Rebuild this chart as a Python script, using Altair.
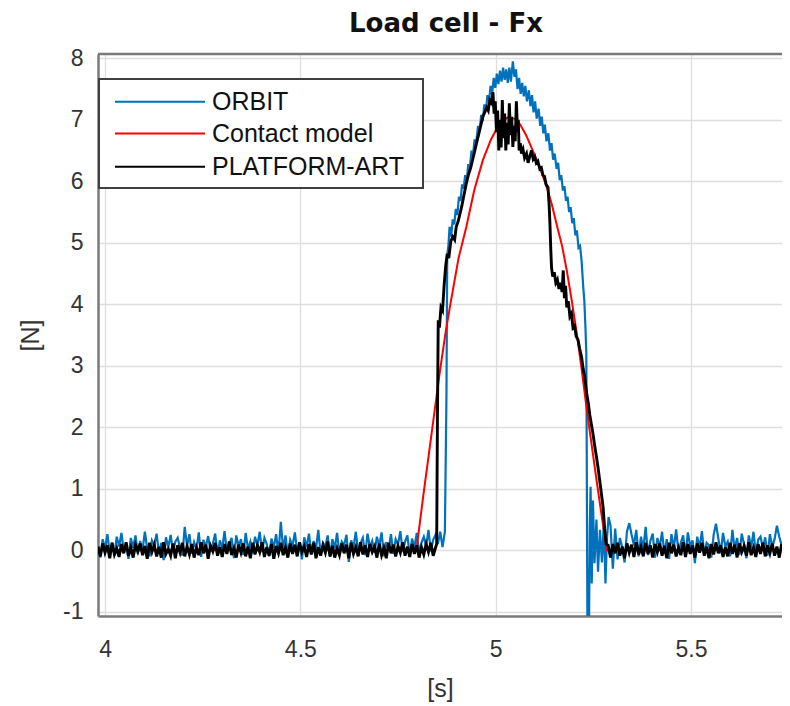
import altair as alt
import pandas as pd

TITLE = "Load cell - Fx"
X_LABEL = "[s]"
Y_LABEL = "[N]"
SERIES = ["ORBIT", "Contact model", "PLATFORM-ART"]
COLORS = ["#0072BD", "#FF0000", "#000000"]
X_TICKS = [4, 4.5, 5, 5.5]
Y_TICKS = [-1, 0, 1, 2, 3, 4, 5, 6, 7, 8]
X_DOMAIN = [3.982, 5.733]
Y_DOMAIN = [-1.07, 8.07]
STEP = 0.006  # sampling step of the flat (pre/post contact) parts

# ---------------- ORBIT (blue) ----------------
ORBIT_PRE_START = 3.982
ORBIT_PRE = [
    0.05, -0.12, 0.18, 0.02, 0.26, -0.04, 0.12, -0.08, 0.22, 0.06,
    0.28, -0.02, 0.10, -0.14, 0.20, 0.04, 0.24, -0.06, 0.15, 0.00,
    0.30, 0.02, -0.10, 0.16, 0.08, 0.27, -0.05, 0.12, -0.16, 0.21,
    0.05, 0.25, -0.03, 0.14, 0.20, 0.04, -0.09, 0.38, 0.07, 0.26,
    -0.06, 0.13, 0.01, 0.29, -0.11, 0.17, 0.05, 0.23, -0.02, 0.11,
    0.27, -0.07, 0.16, 0.03, 0.31, -0.04, 0.09, 0.20, -0.13, 0.24,
    0.06, 0.18, -0.08, 0.28, 0.02, 0.14, -0.05, 0.22, 0.08, 0.30,
    -0.03, 0.20, 0.10, -0.10, 0.19, 0.04, 0.26, -0.06, 0.46, 0.01,
    0.24, -0.09, 0.17, 0.07, 0.29, -0.02, 0.11, -0.15, 0.21, 0.05,
    0.27, -0.04, 0.15, 0.02, 0.33, -0.07, 0.12, 0.06, 0.24, -0.11,
    0.18, 0.03, 0.28, -0.05, 0.14, 0.08, 0.25, -0.19, 0.16, 0.04,
    0.30, -0.02, 0.11, 0.20, -0.08, 0.27, 0.05, 0.15, -0.04, 0.22,
    0.07, 0.29, -0.10, 0.13, 0.02, 0.26, -0.06, 0.18, 0.09, 0.31,
    -0.03, 0.14, 0.24, -0.09, 0.19, 0.04, 0.28, -0.05, 0.12, 0.22,
    0.06, 0.33, -0.02, 0.17, 0.25, 0.10, 0.30, 0.05, 0.30,
]
ORBIT_PULSE = [
    (4.874, 2.50), (4.876, 4.80), (4.879, 4.95), (4.882, 5.26), (4.886, 5.10),
    (4.890, 5.38), (4.894, 5.30), (4.898, 5.55), (4.902, 5.45), (4.906, 5.75),
    (4.910, 5.68), (4.914, 5.95), (4.918, 5.88), (4.922, 6.10), (4.926, 6.02),
    (4.930, 6.28), (4.934, 6.22), (4.938, 6.50), (4.942, 6.42), (4.946, 6.68),
    (4.950, 6.62), (4.955, 6.90), (4.959, 6.82), (4.963, 7.08), (4.967, 6.98),
    (4.971, 7.25), (4.975, 7.15), (4.979, 7.40), (4.983, 7.30), (4.987, 7.55),
    (4.991, 7.42), (4.995, 7.68), (4.999, 7.52), (5.003, 7.75), (5.007, 7.58),
    (5.011, 7.80), (5.015, 7.62), (5.019, 7.85), (5.023, 7.65), (5.027, 7.82),
    (5.031, 7.60), (5.035, 7.85), (5.039, 7.62), (5.044, 7.95), (5.048, 7.70),
    (5.052, 7.82), (5.056, 7.50), (5.060, 7.68), (5.064, 7.42), (5.068, 7.60),
    (5.072, 7.38), (5.076, 7.55), (5.080, 7.30), (5.085, 7.48), (5.089, 7.22),
    (5.093, 7.40), (5.097, 7.12), (5.101, 7.30), (5.105, 7.02), (5.110, 7.18),
    (5.114, 6.90), (5.118, 7.05), (5.122, 6.78), (5.126, 6.92), (5.130, 6.65),
    (5.135, 6.78), (5.139, 6.50), (5.143, 6.62), (5.147, 6.35), (5.151, 6.45),
    (5.156, 6.20), (5.160, 6.30), (5.164, 6.02), (5.168, 6.10), (5.172, 5.85),
    (5.176, 5.92), (5.180, 5.68), (5.184, 5.75), (5.188, 5.50), (5.192, 5.58),
    (5.196, 5.32), (5.200, 5.40), (5.204, 5.12), (5.208, 5.20), (5.212, 4.92),
    (5.216, 4.95), (5.220, 4.70), (5.224, 4.30), (5.227, 4.05), (5.230, 3.60),
    (5.232, 3.20), (5.233, 1.80), (5.234, 0.20), (5.235, -1.40), (5.237, -0.30),
    (5.239, -1.20), (5.241, 0.40), (5.243, 1.03), (5.246, -0.54), (5.249, 0.81),
    (5.253, -0.21), (5.258, 0.50), (5.262, -0.35), (5.267, 0.33), (5.272, -0.20),
    (5.277, 0.45), (5.281, -0.54), (5.285, 0.20), (5.289, 0.54),
]
ORBIT_POST_START = 5.294
ORBIT_POST = [
    0.40, -0.30, 0.35, -0.15, 0.20, 0.05, -0.20, 0.30, 0.44, 0.25,
    0.08, 0.33, -0.10, 0.22, 0.02, 0.38, -0.08, 0.15, 0.27, -0.12,
    0.20, 0.05, 0.30, -0.06, 0.18, -0.14, 0.26, 0.03, 0.34, -0.04,
    0.12, 0.24, -0.09, 0.29, 0.06, 0.16, -0.21, 0.22, 0.04, 0.31,
    -0.07, 0.12, 0.08, -0.12, 0.25, 0.43, 0.19, -0.05, 0.28, 0.06,
    0.14, -0.10, 0.33, 0.01, 0.20, -0.08, 0.27, 0.09, -0.13, 0.24,
    0.04, 0.30, -0.06, 0.17, 0.22, 0.03, 0.21, -0.09, 0.26, 0.05,
    0.18, 0.40, 0.22, 0.08,
]

# ---------------- Contact model (red) ----------------
CONTACT = [
    (3.982, 0.0), (4.797, 0.0), (4.815, 0.90), (4.835, 1.85), (4.856, 2.85),
    (4.872, 3.55), (4.886, 4.07), (4.905, 4.75), (4.925, 5.26), (4.945, 5.85),
    (4.967, 6.34), (4.988, 6.68), (5.010, 6.94), (5.031, 7.04), (5.047, 7.02),
    (5.062, 6.93), (5.078, 6.75), (5.095, 6.50), (5.113, 6.22), (5.130, 5.92),
    (5.144, 5.62), (5.156, 5.30), (5.170, 4.95), (5.182, 4.55), (5.195, 4.05),
    (5.207, 3.55), (5.220, 2.95), (5.233, 2.30), (5.246, 1.70), (5.258, 1.15),
    (5.270, 0.62), (5.280, 0.20), (5.285, 0.0), (5.733, 0.0),
]

# ---------------- PLATFORM-ART (black) ----------------
PLATFORM_PRE_START = 3.982
PLATFORM_PRE = [
    0.06, -0.10, 0.11, -0.04, 0.08, -0.13, 0.12, -0.07, 0.03, -0.11,
    0.10, -0.05, 0.13, -0.09, 0.04, -0.12, 0.09, -0.02, 0.11, -0.08,
    0.07, -0.14, 0.12, -0.03, 0.09, -0.10, 0.05, -0.12, 0.13, -0.06,
    0.02, -0.09, 0.11, -0.13, 0.08, -0.04, 0.12, -0.10, 0.06, -0.07,
    0.10, -0.12, 0.04, -0.08, 0.13, -0.05, 0.09, -0.14, 0.07, -0.02,
    0.12, -0.09, 0.05, -0.11, 0.10, -0.06, 0.14, -0.08, 0.03, -0.12,
    0.09, -0.04, 0.11, -0.10, 0.06, -0.13, 0.12, -0.07, 0.08, -0.03,
    0.13, -0.11, 0.05, -0.09, 0.10, -0.14, 0.07, -0.05, 0.12, -0.08,
    0.04, -0.12, 0.11, -0.06, 0.09, -0.10, 0.13, -0.03, 0.06, -0.11,
    0.10, -0.07, 0.12, -0.13, 0.05, -0.09, 0.08, -0.04, 0.14, -0.10,
    0.07, -0.12, 0.03, -0.08, 0.11, -0.05, 0.09, -0.13, 0.12, -0.06,
    0.05, -0.10, 0.13, -0.07, 0.08, -0.11, 0.10, -0.03, 0.06, -0.12,
    0.11, -0.08, 0.04, -0.13, 0.12, -0.05, 0.09, -0.10, 0.07, -0.04,
    0.13, -0.09, 0.06, -0.11, 0.10, -0.06, 0.08, -0.12, 0.05, -0.07,
    0.10, -0.03, 0.12, -0.09, 0.04,
]
PLATFORM_PULSE = [
    (4.849, 0.10), (4.851, 2.20), (4.853, 3.74), (4.856, 3.62), (4.860, 3.95),
    (4.864, 3.90), (4.868, 4.30), (4.872, 4.62), (4.876, 4.82), (4.880, 4.75),
    (4.885, 5.02), (4.890, 5.10), (4.895, 5.05), (4.899, 5.26), (4.904, 5.35),
    (4.909, 5.48), (4.914, 5.62), (4.919, 5.78), (4.925, 5.97), (4.930, 6.10),
    (4.936, 6.22), (4.941, 6.35), (4.946, 6.48), (4.951, 6.62), (4.956, 6.75),
    (4.961, 6.88), (4.967, 7.05), (4.972, 7.12), (4.977, 7.20), (4.981, 7.15),
    (4.985, 7.32), (4.989, 7.28), (4.993, 7.45), (4.996, 7.10), (4.999, 7.30),
    (5.002, 6.80), (5.005, 7.15), (5.008, 6.50), (5.011, 7.00), (5.014, 6.55),
    (5.017, 7.32), (5.020, 6.70), (5.023, 7.10), (5.026, 6.50), (5.029, 6.95),
    (5.032, 6.60), (5.035, 7.27), (5.038, 6.75), (5.041, 7.05), (5.044, 6.56),
    (5.047, 6.90), (5.050, 6.65), (5.053, 7.30), (5.056, 6.80), (5.058, 7.00),
    (5.060, 6.50), (5.063, 6.62), (5.066, 6.45), (5.070, 6.52), (5.074, 6.38),
    (5.079, 6.45), (5.083, 6.30), (5.088, 6.42), (5.092, 6.50), (5.096, 6.36),
    (5.100, 6.40), (5.104, 6.30), (5.108, 6.33), (5.113, 6.20), (5.117, 6.22),
    (5.121, 6.10), (5.125, 6.08), (5.129, 5.95), (5.134, 5.90), (5.137, 5.60),
    (5.139, 5.30), (5.141, 4.90), (5.143, 4.60), (5.146, 4.45), (5.150, 4.52),
    (5.154, 4.35), (5.158, 4.40), (5.162, 4.25), (5.166, 4.35), (5.170, 4.20),
    (5.173, 4.55), (5.176, 4.10), (5.179, 4.30), (5.182, 3.95), (5.186, 4.05),
    (5.190, 3.80), (5.194, 3.85), (5.198, 3.62), (5.202, 3.65), (5.206, 3.48),
    (5.211, 3.42), (5.215, 3.28), (5.220, 3.14), (5.224, 2.95), (5.228, 2.82),
    (5.233, 2.55), (5.237, 2.40), (5.241, 2.20), (5.245, 2.05), (5.249, 1.90),
    (5.253, 1.72), (5.258, 1.52), (5.262, 1.35), (5.266, 1.15), (5.270, 0.95),
    (5.275, 0.70), (5.279, 0.35), (5.283, 0.10),
]
PLATFORM_POST_START = 5.288
PLATFORM_POST = [
    0.08, -0.12, 0.10, -0.05, 0.12, -0.09, 0.06, -0.13, 0.11, -0.04,
    0.09, -0.11, 0.13, -0.07, 0.05, -0.10, 0.12, -0.06, 0.08, -0.12,
    0.10, -0.03, 0.11, -0.09, 0.07, -0.13, 0.12, -0.05, 0.09, -0.10,
    0.04, -0.08, 0.13, -0.11, 0.10, -0.06, 0.08, -0.12, 0.11, -0.04,
    0.12, -0.09, 0.06, -0.13, 0.10, -0.07, 0.13, -0.05, 0.08, -0.11,
    0.05, -0.10, 0.12, -0.06, 0.09, -0.12, 0.11, -0.03, 0.07, -0.09,
    0.13, -0.08, 0.04, -0.11, 0.10, -0.06, 0.12, -0.10, 0.08, -0.05,
    0.11, -0.09, 0.06, -0.12, 0.10,
]


def build(name, pre_start=None, pre=(), pulse=(), post_start=None, post=()):
    t = [pre_start + i * STEP for i in range(len(pre))]
    y = list(pre)
    t += [p[0] for p in pulse]
    y += [p[1] for p in pulse]
    t += [post_start + i * STEP for i in range(len(post))]
    y += list(post)
    return pd.DataFrame({"t": t, "y": y, "series": name, "i": range(len(t))})


orbit_df = build(SERIES[0], ORBIT_PRE_START, ORBIT_PRE, ORBIT_PULSE, ORBIT_POST_START, ORBIT_POST)
contact_df = build(SERIES[1], pulse=CONTACT)
platform_df = build(SERIES[2], PLATFORM_PRE_START, PLATFORM_PRE, PLATFORM_PULSE,
                    PLATFORM_POST_START, PLATFORM_POST)

W, H = 684, 562
FONT = "Liberation Sans"
AXIS_GRAY = "#7a7a7a"

x_enc = alt.X(
    "t:Q",
    scale=alt.Scale(domain=X_DOMAIN, nice=False, zero=False),
    axis=alt.Axis(
        values=X_TICKS, format="~g", title=X_LABEL, grid=True,
        ticks=False, tickSize=0, labelPadding=22, labelFontSize=23,
        labelColor="#333333", labelFont=FONT, titleFont=FONT, titleFontSize=25,
        titleFontWeight="normal", titleColor="#333333",
        titleX=W / 2, titleY=72, titleBaseline="middle", titleAlign="center",
        domainColor=AXIS_GRAY, domainWidth=2.5,
        gridColor="#DEDEDE", gridWidth=1.3,
    ),
)
y_enc = alt.Y(
    "y:Q",
    scale=alt.Scale(domain=Y_DOMAIN, nice=False, zero=False),
    axis=alt.Axis(
        values=Y_TICKS, labelExpr="'' + datum.value", title=Y_LABEL, grid=True,
        ticks=False, tickSize=0, labelPadding=15, labelFontSize=23,
        labelColor="#333333", labelFont=FONT, titleFont=FONT, titleFontSize=25,
        titleFontWeight="normal", titleColor="#333333",
        titleAngle=270, titleX=-68, titleY=H / 2, titleBaseline="middle",
        titleAlign="center",
        domainColor=AXIS_GRAY, domainWidth=2.5,
        gridColor="#DEDEDE", gridWidth=1.3,
    ),
)


def line(df, color, width):
    return alt.Chart(df).mark_line(color=color, strokeWidth=width, clip=True).encode(
        x=x_enc, y=y_enc, order="i:Q"
    )


one = pd.DataFrame({"k": [0]})
top_border = alt.Chart(one).mark_rule(color=AXIS_GRAY, strokeWidth=2.5).encode(
    x=alt.value(0), x2=alt.value(W), y=alt.value(0)
)

# legend box
legend_box = alt.Chart(one).mark_rect(
    fill="white", stroke="#404040", strokeWidth=2
).encode(x=alt.value(1), x2=alt.value(325), y=alt.value(25), y2=alt.value(134))

ROW_Y = [47.7, 79.5, 112.7]
legend_layers = []
for name, color, ry in zip(SERIES, COLORS, ROW_Y):
    d = pd.DataFrame({"label": [name]})
    legend_layers.append(
        alt.Chart(d).mark_rule(color=color, strokeWidth=2).encode(
            x=alt.value(17), x2=alt.value(107), y=alt.value(ry)
        )
    )
    legend_layers.append(
        alt.Chart(d).mark_text(
            align="left", baseline="middle", font=FONT, fontSize=25, color="#111111"
        ).encode(x=alt.value(114), y=alt.value(ry), text="label:N")
    )

chart = alt.layer(
    line(orbit_df, COLORS[0], 2.2),
    line(contact_df, COLORS[1], 2.0),
    line(platform_df, COLORS[2], 2.9),
    top_border,
    legend_box,
    *legend_layers,
).properties(
    width=W,
    height=H,
    autosize=alt.AutoSizeParams(type="none"),
    padding={"left": 90, "top": 46, "right": 0, "bottom": 86},
    title=alt.TitleParams(
        TITLE, font="DejaVu Sans", fontSize=26, fontWeight="bold", color="#111111",
        anchor="middle", offset=10, dx=6,
    ),
).configure_view(stroke=None)

chart.save("out.html", embed_options={"renderer": "svg", "actions": False})
